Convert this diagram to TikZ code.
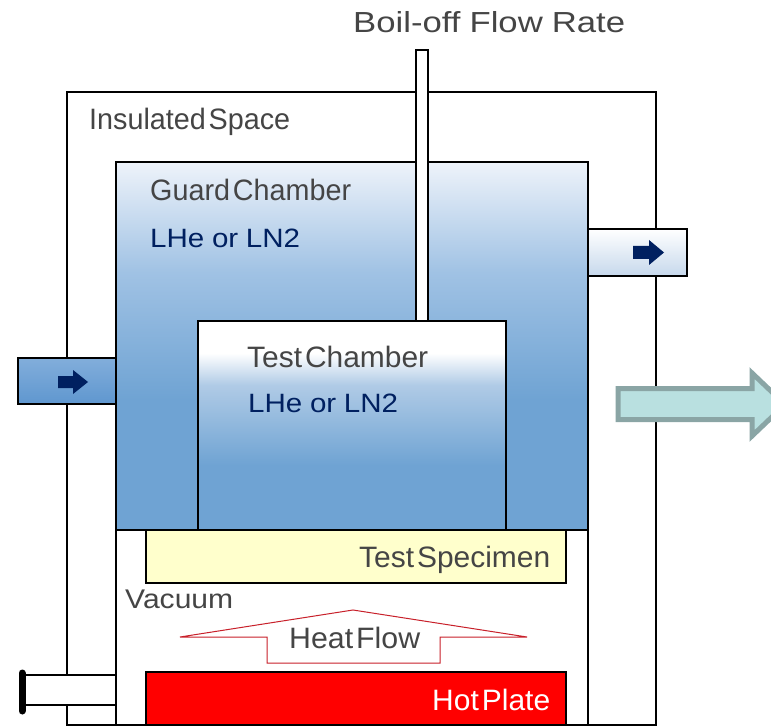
\documentclass[tikz,border=0pt]{standalone}
\usepackage{fontspec}
\usepackage{graphicx}
\setmainfont{Liberation Sans}
\definecolor{tubeblue}{HTML}{6FA3D3}
\definecolor{guardmid}{HTML}{A0C2E4}
\definecolor{guardtop}{HTML}{EEF3FA}
\definecolor{testmid}{HTML}{B0CBE6}
\definecolor{lefttop}{HTML}{82AEDB}
\definecolor{leftlow}{HTML}{5F97CF}
\definecolor{rightlow}{HTML}{C6D8EC}
\definecolor{navy}{HTML}{002060}
\definecolor{labelgray}{HTML}{454545}
\definecolor{specimen}{HTML}{FFFFCC}
\definecolor{bigfill}{HTML}{B9E0E0}
\definecolor{bigedge}{HTML}{8AA5A5}
\definecolor{heatline}{HTML}{C8202A}
\pgfdeclareverticalshading{guardshade}{100bp}{
  color(0bp)=(tubeblue); color(42.7bp)=(tubeblue); color(60bp)=(guardmid);
  color(75bp)=(guardtop); color(100bp)=(guardtop)}
\pgfdeclareverticalshading{testshade}{100bp}{
  color(0bp)=(tubeblue); color(40.5bp)=(tubeblue); color(59.7bp)=(testmid);
  color(67.3bp)=(white); color(100bp)=(white)}
\pgfdeclareverticalshading{leftshade}{100bp}{
  color(0bp)=(leftlow); color(25bp)=(leftlow); color(75bp)=(lefttop); color(100bp)=(lefttop)}
\pgfdeclareverticalshading{rightshade}{100bp}{
  color(0bp)=(rightlow); color(25bp)=(rightlow); color(75bp)=(white); color(100bp)=(white)}
\tikzset{
  box/.style={draw=black,line width=2pt,rectangle,inner sep=0pt,outer sep=0pt,anchor=north west},
  lab/.style={anchor=base west,inner sep=0pt,text=labelgray,font=\fontsize{29.5}{29.5}\selectfont},
  liquid/.style={anchor=base west,inner sep=0pt,text=navy,font=\fontsize{26.5}{26.5}\selectfont},
  smallarrow/.style={fill=navy,draw=none}
}
\newcommand{\bx}[6]{% name, x0,y0,x1,y1, style
  \pgfmathsetmacro{\bw}{#4-#2}\pgfmathsetmacro{\bh}{#5-#3}
  \node[box,minimum width=\bw pt,minimum height=\bh pt,#6] (#1) at (#2,#3) {};}
\newcommand{\fit}[2]{\resizebox{#1pt}{\height}{\spaceskip=.1em\relax #2}}
\newcommand{\fitwide}[2]{\resizebox{#1pt}{\height}{\spaceskip=.26em\relax #2}}
\begin{document}
\begin{tikzpicture}[x=1pt,y=-1pt]
\useasboundingbox (0,0) rectangle (771,727);
\clip (0,0) rectangle (771,727);
\bx{outer}{67}{92}{656}{725}{fill=white}
\bx{rightport}{588}{229}{687}{276}{shading=rightshade}
\bx{leftport}{18}{358}{116}{404}{shading=leftshade}
\bx{guard}{116}{162}{588}{530}{shading=guardshade}
\bx{vacuum}{116}{530}{588}{725}{fill=white}
\bx{tube}{416}{50}{428}{321}{fill=white}
\bx{test}{198}{321}{506}{530}{shading=testshade}
\bx{spec}{146}{530}{566}{583}{fill=specimen}
\bx{hot}{146}{672}{566}{725}{fill=red}
\bx{pipe}{22}{675}{116}{705}{fill=white}
\coordinate (flangetop) at (22,673);
\coordinate (flangebot) at (22,711);
\draw[black,line width=7pt,line cap=round] (flangetop) -- (flangebot);
% small arrows
\fill[smallarrow] (633,246) -- (649,246) -- (649,240) -- (664,252.5) -- (649,265) -- (649,259) -- (633,259) -- cycle;
\fill[smallarrow] (58,376) -- (73,376) -- (73,370) -- (88,382) -- (73,394) -- (73,388) -- (58,388) -- cycle;
% big arrow
\draw[fill=bigfill,draw=bigedge,line width=5pt,miter limit=10] (618,388.5) -- (752,388.5) -- (752,373) -- (785,404.5) -- (752,436) -- (752,419.5) -- (618,419.5) -- cycle;
% heat flow arrow
\draw[heatline,line width=1pt,fill=white] (180,637) -- (353,610) -- (527,637) -- (440,637) -- (440,663) -- (267,663) -- (267,637) -- cycle;
% labels
\node[lab,font=\fontsize{29}{29}\selectfont] (boil) at (353,33) {\fitwide{272}{Boil-off Flow Rate}};
\node[lab] (ins) at (89,130) {\fit{201}{Insulated Space}};
\node[lab] (gc) at (150,201) {\fit{201}{Guard Chamber}};
\node[liquid] (l1) at (150,248) {\fitwide{150}{LHe or LN2}};
\node[lab] (tc) at (247,367) {\fit{181}{Test Chamber}};
\node[liquid] (l2) at (248,412) {\fitwide{150}{LHe or LN2}};
\node[lab] (ts) at (359,567) {\fit{191}{Test Specimen}};
\node[lab,font=\fontsize{27}{27}\selectfont] (vac) at (125,608) {\fit{108}{Vacuum}};
\node[lab] (hf) at (289,648) {\fit{131}{Heat Flow}};
\node[lab,text=white] (hp) at (432,710) {\fit{118}{Hot Plate}};
\end{tikzpicture}
\end{document}
